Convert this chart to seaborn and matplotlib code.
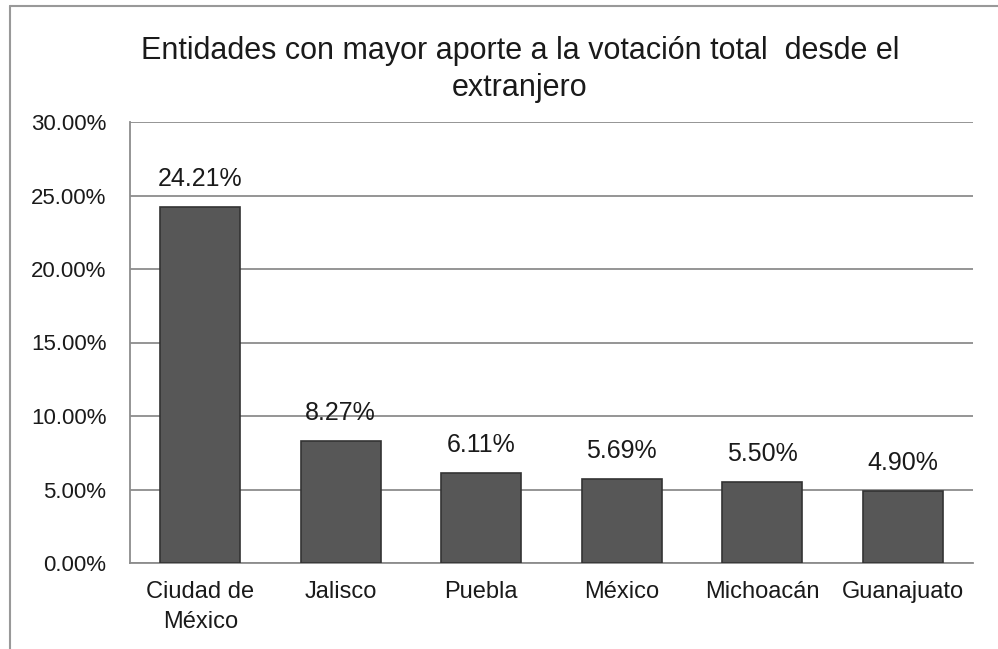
import matplotlib
matplotlib.use("Agg")
import matplotlib.pyplot as plt
import pandas as pd
import seaborn as sns
from matplotlib.ticker import PercentFormatter

# Data
entidades = ["Ciudad de\nMéxico", "Jalisco", "Puebla", "México", "Michoacán", "Guanajuato"]
porcentajes = [24.21, 8.27, 6.11, 5.69, 5.50, 4.90]
y_ticks = [0, 5, 10, 15, 20, 25, 30]

df = pd.DataFrame({"entidad": entidades, "pct": porcentajes})

sns.set_style("white")
plt.rcParams["font.family"] = ["Liberation Sans Narrow", "Liberation Sans", "DejaVu Sans"]

fig = plt.figure(figsize=(9.98, 6.49), dpi=100)
ax = fig.add_axes([130 / 998, 1 - 563 / 649, 843 / 998, 441 / 649])

sns.barplot(data=df, x="entidad", y="pct", color="#575757", edgecolor="#333333",
            linewidth=1.2, width=0.57, saturation=1, ax=ax, zorder=3)

ax.set_ylim(0, 30)
ax.set_yticks(y_ticks)
ax.yaxis.set_major_formatter(PercentFormatter(decimals=2))
ax.grid(axis="y", color="#8c8c8c", linewidth=1.3, zorder=0)
ax.set_axisbelow(True)
for s in ["top", "right"]:
    ax.spines[s].set_visible(False)
for s in ["left", "bottom"]:
    ax.spines[s].set_color("#8c8c8c")
    ax.spines[s].set_linewidth(1.3)
ax.tick_params(axis="both", length=0, colors="#1a1a1a")
ax.tick_params(axis="x", pad=13, labelsize=17)
ax.tick_params(axis="y", pad=17, labelsize=16)
for lbl in ax.get_xticklabels():
    lbl.set_linespacing(1.45)
ax.set_xlabel("")
ax.set_ylabel("")

for i, v in enumerate(porcentajes):
    ax.text(i, v + 1.1, f"{v:.2f}%", ha="center", va="bottom", fontsize=18, color="#1a1a1a")

fig.text(0.521, 0.945, "Entidades con mayor aporte a la votación total  desde el\nextranjero",
         ha="center", va="top", fontsize=22, color="#1a1a1a", linespacing=1.3)

# outer chart frame
fig.add_artist(plt.Line2D([10 / 998, 1.0], [1 - 6 / 649, 1 - 6 / 649], color="#999999", linewidth=1.5))
fig.add_artist(plt.Line2D([10 / 998, 10 / 998], [0, 1 - 6 / 649], color="#999999", linewidth=1.5))

fig.savefig("out.png", dpi=100, facecolor="white")
